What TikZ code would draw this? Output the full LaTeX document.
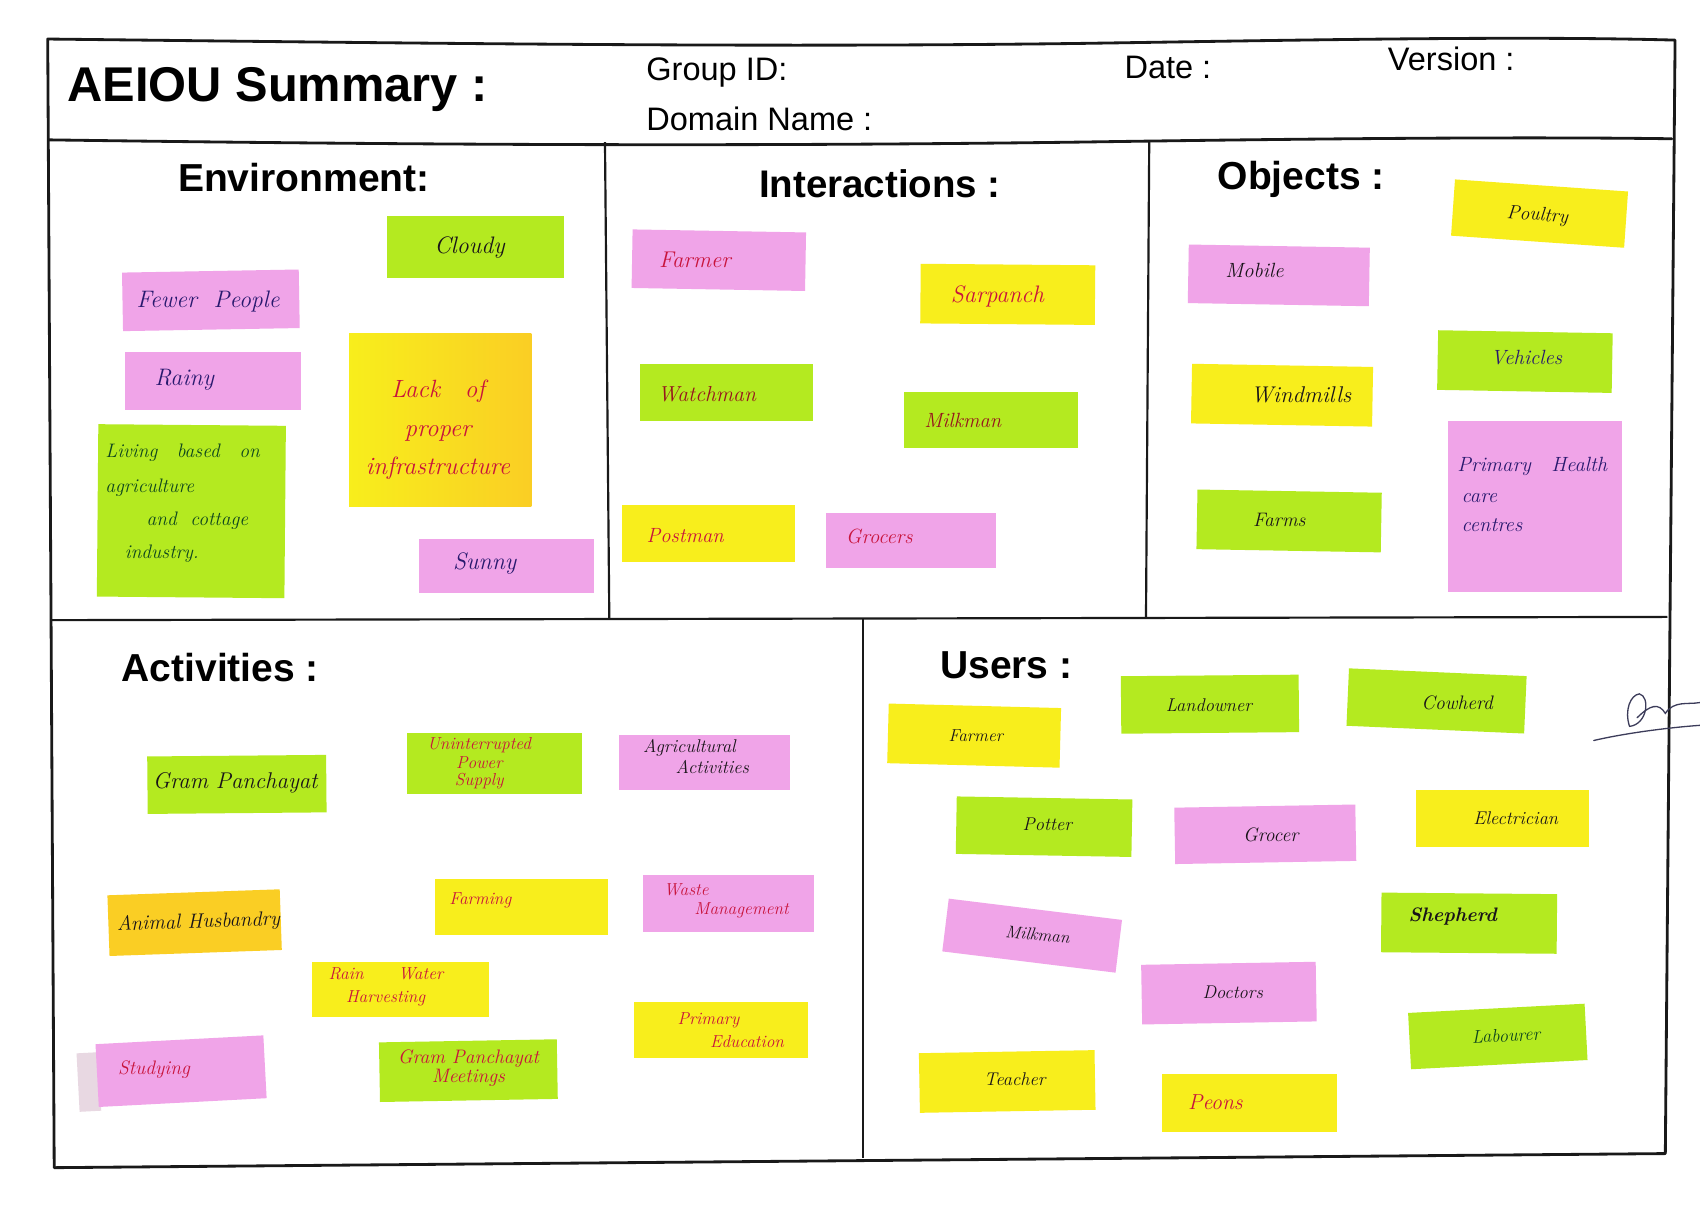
\documentclass[tikz,border=0pt]{standalone}
\usepackage{fontspec}
\newfontfamily\arialf{Liberation Sans}
\definecolor{npink}{RGB}{240,164,232}
\definecolor{ngreen}{RGB}{180,234,32}
\definecolor{nyellow}{RGB}{248,238,28}
\definecolor{norange}{RGB}{250,206,36}
\definecolor{npale}{RGB}{232,216,226}
\definecolor{tred}{RGB}{200,20,60}
\definecolor{tdred}{RGB}{150,20,30}
\definecolor{tnavy}{RGB}{40,25,110}
\definecolor{tgreen}{RGB}{15,70,30}
\definecolor{tblack}{RGB}{25,20,25}
\definecolor{framec}{RGB}{25,25,25}
\definecolor{signc}{RGB}{60,60,90}
\newcommand\hf[1]{\fontsize{#1}{#1}\selectfont\itshape}
\tikzset{
  notebox/.style={draw=none, inner sep=0pt, rectangle},
  hand/.style={inner sep=0pt, text=tblack},
  head/.style={inner sep=0pt, anchor=base west, font=\arialf\bfseries\fontsize{36}{42}\selectfont},
  field/.style={inner sep=0pt, anchor=base west, font=\arialf\fontsize{30}{34}\selectfont},
  frameline/.style={draw=framec, line width=2.6pt, line cap=round, line join=round},
  divline/.style={draw=framec, line width=2pt},
  signline/.style={draw=signc, line width=1.2pt, line cap=round},
}
\begin{document}
\begin{tikzpicture}[x=1pt,y=-1pt]
\useasboundingbox (0,0) rectangle (1568,1123);
\fill[white] (0,0) rectangle (1568,1123);

% ---------- frame ----------
\coordinate (tl) at (44,36);
\coordinate (tr) at (1545,37);
\coordinate (br) at (1536,1064);
\coordinate (bl) at (50,1077);
\coordinate (hl) at (45,129);
\coordinate (hr) at (1542,128);
\coordinate (ml) at (47,572);
\coordinate (mr) at (1538,569);
\coordinate (v1t) at (558,131);
\coordinate (v1b) at (562,571);
\coordinate (v2t) at (1060,130);
\coordinate (v2b) at (1057,569);
\coordinate (v3t) at (796,571);
\coordinate (v3b) at (796,1068);
\draw[frameline] (tl) .. controls (400,40) and (700,44) .. (1000,40) .. controls (1200,37) and (1400,33) .. (tr) -- (br) -- (bl) -- cycle;
\draw[frameline] (hl) .. controls (400,134) and (700,135) .. (1000,131) .. controls (1200,128) and (1400,126) .. (hr);
\draw[divline] (ml) -- (mr);
\draw[divline] (v1t) -- (v1b);
\draw[divline] (v2t) -- (v2b);
\draw[divline] (v3t) -- (v3b);

% ---------- header ----------
\node[inner sep=0pt, anchor=base west, font=\arialf\bfseries\fontsize{45}{50}\selectfont] (title) at (62,94) {AEIOU Summary :};
\node[field] (group) at (596,74) {Group ID:};
\node[field] (domain) at (596,120) {Domain Name :};
\node[field] (date) at (1037,72) {Date :};
\node[field] (version) at (1280,65) {Version :};

% ---------- section headings ----------
\node[head] (henv) at (164,177) {Environment:};
\node[head, font=\arialf\bfseries\fontsize{35.5}{42}\selectfont] (hint) at (700,182) {Interactions :};
\node[head] (hobj) at (1123,175) {Objects :};
\node[head] (hact) at (112,629) {Activities :};
\node[head] (husr) at (867,626) {Users :};

% ---------- Environment notes ----------
\node[notebox, fill=ngreen, minimum width=163pt, minimum height=57pt] (cloudy) at (438.5,227.5) {};
\node[hand, font=\hf{22}] (cloudyt) at (433,228) {Cloudy};
\node[notebox, fill=npink, minimum width=163pt, minimum height=54pt, rotate=1] (fewer) at (194.5,277) {};
\node[hand, text=tnavy, font=\hf{22}] (fewert) at (192,278) {Fewer\ \ People};
\node[notebox, fill=npink, minimum width=163pt, minimum height=53pt] (rainy) at (196.5,351.5) {};
\node[hand, text=tnavy, font=\hf{22}] (rainyt) at (170,350) {Rainy};
\node[notebox, left color=nyellow, right color=norange, minimum width=168pt, minimum height=159pt] (lack) at (406,387.5) {};
\node[hand, text=tred, font=\hf{23}, align=center] (lackt) at (404,396) {Lack\quad of\\[13pt]proper\\[12pt]infrastructure};
\node[notebox, fill=ngreen, minimum width=173pt, minimum height=159pt, rotate=-0.5] (living) at (176.5,471.5) {};
\node[hand, text=tgreen, font=\hf{18}, align=left, anchor=north west] (livingt) at (97,409) {Living\quad based\quad on\\[15pt]agriculture\\[12pt]\hspace{38pt}and\ \ cottage\\[12pt]\hspace{18pt}industry.};
\node[notebox, fill=npink, minimum width=162pt, minimum height=50pt] (sunny) at (467,522) {};
\node[hand, text=tnavy, font=\hf{22}] (sunnyt) at (447,520) {Sunny};

% ---------- Interactions notes ----------
\node[notebox, fill=npink, minimum width=160pt, minimum height=54pt, rotate=-1] (farmeri) at (663,240) {};
\node[hand, text=tred, font=\hf{21}] (farmerit) at (641,240) {Farmer};
\node[notebox, fill=nyellow, minimum width=161pt, minimum height=55pt, rotate=-0.5] (sarpanch) at (929.5,271.5) {};
\node[hand, text=tred, font=\hf{22}] (sarpancht) at (920,273) {Sarpanch};
\node[notebox, fill=ngreen, minimum width=160pt, minimum height=52pt] (watchman) at (670,362) {};
\node[hand, text=tdred, font=\hf{20}] (watchmant) at (652,364) {Watchman};
\node[notebox, fill=ngreen, minimum width=160pt, minimum height=51pt] (milkmani) at (914,387.5) {};
\node[hand, text=tdred, font=\hf{19}] (milkmanit) at (888,388) {Milkman};
\node[notebox, fill=nyellow, minimum width=159pt, minimum height=52pt] (postman) at (653.5,492) {};
\node[hand, text=tred, font=\hf{19}] (postmant) at (632,494) {Postman};
\node[notebox, fill=npink, minimum width=157pt, minimum height=51pt] (grocers) at (840.5,498.5) {};
\node[hand, text=tred, font=\hf{19}] (grocerst) at (811,495) {Grocers};

% ---------- Objects notes ----------
\node[notebox, fill=nyellow, minimum width=160pt, minimum height=52pt, rotate=-4] (poultry) at (1420,197) {};
\node[hand, font=\hf{18}, rotate=-4] (poultryt) at (1418,199) {Poultry};
\node[notebox, fill=npink, minimum width=167pt, minimum height=54pt, rotate=-1] (mobile) at (1179.5,254) {};
\node[hand, font=\hf{19}] (mobilet) at (1157,249) {Mobile};
\node[notebox, fill=ngreen, minimum width=161pt, minimum height=55pt, rotate=-1] (vehicles) at (1406.5,333.5) {};
\node[hand, text=tnavy, font=\hf{19}] (vehiclest) at (1408,330) {Vehicles};
\node[notebox, fill=nyellow, minimum width=167pt, minimum height=55pt, rotate=-1] (windmills) at (1182.5,364.5) {};
\node[hand, font=\hf{21}] (windmillst) at (1200,364) {Windmills};
\node[notebox, fill=npink, minimum width=160pt, minimum height=158pt] (phc) at (1416,467) {};
\node[hand, text=tnavy, font=\hf{19}, align=left, anchor=west] (phct) at (1344,456) {Primary\quad Health\\[10pt]\hspace{4pt}care\\[8pt]\hspace{4pt}centres};
\node[notebox, fill=ngreen, minimum width=170pt, minimum height=55pt, rotate=-1] (farms) at (1189,480.5) {};
\node[hand, font=\hf{18}] (farmst) at (1180,480) {Farms};

% ---------- Activities notes ----------
\node[notebox, fill=ngreen, minimum width=165pt, minimum height=53pt, rotate=0.5] (gramp) at (218.5,723.5) {};
\node[hand, font=\hf{21}] (grampt) at (217,722) {Gram Panchayat};
\node[notebox, fill=ngreen, minimum width=162pt, minimum height=56pt] (power) at (456,704) {};
\node[hand, text=tred, font=\hf{16}, align=center] (powert) at (442,704) {Uninterrupted\\[1pt]Power\\[0pt]Supply};
\node[notebox, fill=npink, minimum width=158pt, minimum height=51pt] (agri) at (650,703.5) {};
\node[hand, font=\hf{17}, align=left] (agrit) at (642,698) {Agricultural\\[2pt]\hspace{30pt}Activities};
\node[notebox, fill=norange, minimum width=159pt, minimum height=56pt, rotate=2] (animal) at (179.5,851) {};
\node[hand, text=tblack, font=\hf{19}, rotate=2] (animalt) at (183,851) {Animal Husbandry};
\node[notebox, fill=nyellow, minimum width=160pt, minimum height=51pt] (farming) at (481,836.5) {};
\node[hand, text=tred, font=\hf{16}] (farmingt) at (443,830) {Farming};
\node[notebox, fill=npink, minimum width=158pt, minimum height=53pt] (waste) at (672,833.5) {};
\node[hand, text=tred, font=\hf{16}, align=left] (wastet) at (670,831) {Waste\\[2pt]\hspace{28pt}Management};
\node[notebox, fill=nyellow, minimum width=163pt, minimum height=51pt] (rain) at (369.5,912.5) {};
\node[hand, text=tred, font=\hf{16}, align=left] (raint) at (356,910) {Rain\qquad Water\\[5pt]\hspace{16pt}Harvesting};
\node[notebox, fill=nyellow, minimum width=160pt, minimum height=52pt] (educ) at (665,950) {};
\node[hand, text=tred, font=\hf{16}, align=left] (educt) at (674,950) {Primary\\[5pt]\hspace{30pt}Education};
\node[notebox, fill=npale, minimum width=20pt, minimum height=54pt, rotate=3] (curl) at (82,998) {};
\node[notebox, fill=npink, minimum width=155pt, minimum height=58pt, rotate=3] (study) at (167,988) {};
\node[hand, text=tred, font=\hf{18}] (studyt) at (142,987) {Studying};
\node[notebox, fill=ngreen, minimum width=164pt, minimum height=55pt, rotate=1] (gpm) at (432,987.5) {};
\node[hand, text=tred, font=\hf{18}, align=center] (gpmt) at (432,985) {Gram Panchayat\\[0pt]Meetings};

% ---------- Users notes ----------
\node[notebox, fill=nyellow, minimum width=159pt, minimum height=55pt, rotate=-1.5] (farmeru) at (898.5,678.5) {};
\node[hand, font=\hf{16}] (farmerut) at (900,679) {Farmer};
\node[notebox, fill=ngreen, minimum width=164pt, minimum height=53pt, rotate=0.5] (landowner) at (1116,649.5) {};
\node[hand, font=\hf{17}] (landownert) at (1115,650) {Landowner};
\node[notebox, fill=ngreen, minimum width=164pt, minimum height=53pt, rotate=-2.5] (cowherd) at (1325,646.5) {};
\node[hand, font=\hf{18}] (cowherdt) at (1344,648) {Cowherd};
\node[notebox, fill=ngreen, minimum width=162pt, minimum height=53pt, rotate=-1] (potter) at (963,762.5) {};
\node[hand, font=\hf{17}] (pottert) at (966,760) {Potter};
\node[notebox, fill=npink, minimum width=167pt, minimum height=52pt, rotate=1] (grocer) at (1167,769.5) {};
\node[hand, font=\hf{18}] (grocert) at (1172,770) {Grocer};
\node[notebox, fill=nyellow, minimum width=160pt, minimum height=52pt] (elec) at (1386,755) {};
\node[hand, font=\hf{17}] (elect) at (1398,755) {Electrician};
\node[notebox, fill=npink, minimum width=161pt, minimum height=49pt, rotate=-7] (milkmanu) at (952,863) {};
\node[hand, font=\hf{16}, rotate=-6] (milkmanut) at (957,862) {Milkman};
\node[notebox, fill=ngreen, minimum width=162pt, minimum height=55pt, rotate=-0.5] (shepherd) at (1355,851.5) {};
\node[hand, font=\bfseries\hf{18}] (shepherdt) at (1340,845) {Shepherd};
\node[notebox, fill=npink, minimum width=161pt, minimum height=55pt, rotate=1] (doctors) at (1133.5,916) {};
\node[hand, font=\hf{17}] (doctorst) at (1137,915) {Doctors};
\node[notebox, fill=ngreen, minimum width=163pt, minimum height=52pt, rotate=3] (labourer) at (1381.5,956) {};
\node[hand, text=tgreen, font=\hf{17}, rotate=3] (labourert) at (1389,955) {Labourer};
\node[notebox, fill=nyellow, minimum width=162pt, minimum height=55pt, rotate=1] (teacher) at (929,997.5) {};
\node[hand, font=\hf{17}] (teachert) at (936,995) {Teacher};
\node[notebox, fill=nyellow, minimum width=161pt, minimum height=53pt] (peons) at (1152.5,1017.5) {};
\node[hand, text=tred, font=\hf{20}] (peonst) at (1121,1017) {Peons};

% ---------- signature ----------
\coordinate (s0) at (1470,683);
\coordinate (s1) at (1568,669);
\coordinate (s2) at (1503,670);
\coordinate (s3) at (1512,640);
\coordinate (s4) at (1568,648);
\draw[signline] (s0) .. controls (1500,676) and (1540,671) .. (s1);
\draw[signline] (s2) .. controls (1498,655) and (1504,641) .. (s3) .. controls (1522,642) and (1520,668) .. (s2);
\draw[signline] (1510,662) .. controls (1522,650) and (1530,648) .. (1536,658) .. controls (1544,646) and (1556,650) .. (s4);
\end{tikzpicture}
\end{document}
